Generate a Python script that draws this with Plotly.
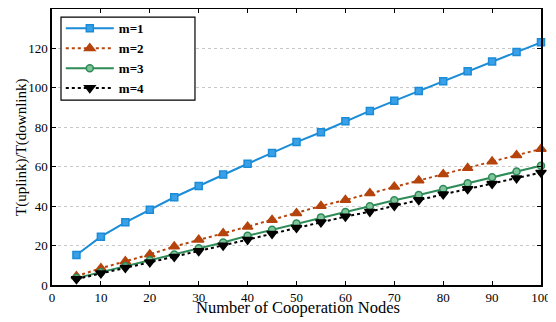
import plotly.graph_objects as go

nodes = [5, 10, 15, 20, 25, 30, 35, 40, 45, 50, 55, 60, 65, 70, 75, 80, 85, 90, 95, 100]
m1 = [15.2, 24.5, 31.8, 38.2, 44.5, 50.2, 56.0, 61.5, 67.0, 72.5, 77.5, 83.0, 88.3, 93.4, 98.4, 103.3, 108.4, 113.4, 118.2, 123.1]
m2 = [4.5, 8.5, 12.0, 15.5, 19.5, 23.0, 26.2, 29.6, 33.0, 36.4, 40.1, 43.1, 46.5, 49.9, 53.0, 56.2, 59.3, 62.6, 65.8, 69.0]
m3 = [3.5, 6.5, 9.5, 12.5, 15.5, 18.6, 21.6, 25.0, 28.0, 31.2, 34.3, 37.0, 39.9, 43.0, 45.7, 48.7, 51.6, 54.6, 57.6, 60.5]
m4 = [3.0, 6.0, 8.7, 11.5, 14.3, 17.2, 20.0, 23.0, 26.0, 29.0, 31.8, 34.7, 37.2, 40.2, 43.1, 46.0, 48.7, 51.4, 54.2, 57.0]
names = ["m=1", "m=2", "m=3", "m=4"]
series = [m1, m2, m3, m4]
colors = ["#1a8cd8", "#b5440c", "#2e8b57", "#000000"]
dashes = ["solid", "dot", "solid", "dot"]
symbols = ["square", "triangle-up", "circle", "triangle-down"]
fills = ["#3aa0e8", "#b5440c", "#7fc49a", "#000000"]
sizes = [7, 9, 7, 9]
x_title = "Number of Cooperation Nodes"
y_title = "T(uplink)/T(downlink)"

fig = go.Figure()
for n, y, c, d, s, f, sz in zip(names, series, colors, dashes, symbols, fills, sizes):
    fig.add_trace(go.Scatter(
        x=nodes, y=y, name="<b>" + n + "</b>", mode="lines+markers",
        line=dict(color=c, width=2, dash=d),
        marker=dict(symbol=s, size=sz, color=f, line=dict(color=c, width=1.5)),
        cliponaxis=False,
    ))

font = "Liberation Serif, Times New Roman, serif"
fig.update_layout(
    width=548, height=314,
    margin=dict(l=44, r=15, t=1, b=37),
    paper_bgcolor="white", plot_bgcolor="white",
    font=dict(family=font, size=13, color="black"),
    showlegend=True,
    legend=dict(
        x=0.018, y=0.984, xanchor="left", yanchor="top",
        bgcolor="rgba(0,0,0,0)", borderwidth=0,
        font=dict(family=font, size=13, color="black"),
        itemwidth=48, tracegroupgap=0,
    ),
    xaxis=dict(
        range=[0, 100], tickmode="linear", tick0=0, dtick=10,
        ticks="inside", ticklen=4, tickcolor="black",
        showline=True, linecolor="black", linewidth=1.5, mirror="ticks",
        showgrid=False, zeroline=False, automargin=False,
        tickfont=dict(family=font, size=13),
    ),
    yaxis=dict(
        range=[0, 140], tickmode="linear", tick0=0, dtick=20,
        ticks="inside", ticklen=4, tickcolor="black",
        showline=True, linecolor="black", linewidth=1.5, mirror="ticks",
        showgrid=True, gridcolor="#c8c8c8", griddash="dot", gridwidth=1,
        zeroline=False, automargin=False,
        tickfont=dict(family=font, size=13),
    ),
    shapes=[dict(
        type="rect", xref="x", yref="y",
        x0=1.84, x1=29.24, y0=93.8, y1=135.9,
        fillcolor="white", line=dict(color="black", width=1.2), layer="above",
    )],
    annotations=[
        dict(text=x_title, xref="paper", yref="paper", x=0.504, y=-0.080,
             xanchor="center", yanchor="middle", showarrow=False,
             font=dict(family=font, size=16.5, color="black")),
        dict(text=y_title, xref="paper", yref="paper", x=-0.0634, y=0.5,
             xanchor="center", yanchor="middle", showarrow=False, textangle=-90,
             font=dict(family=font, size=15, color="black")),
    ],
)

fig.write_html("out.html")
